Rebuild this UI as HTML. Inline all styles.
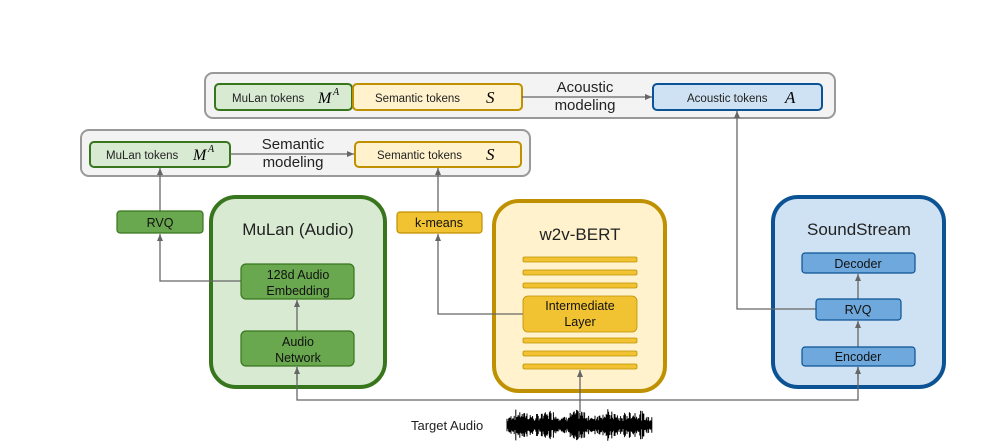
<!DOCTYPE html>
<html><head><meta charset="utf-8"><style>
body{margin:0;background:#fff;}
svg{display:block;font-family:"Liberation Sans",sans-serif;}
</style></head><body>
<svg width="1000" height="444" viewBox="0 0 1000 444" xmlns="http://www.w3.org/2000/svg">
<defs><marker id="a" markerWidth="8" markerHeight="8" refX="7" refY="4" orient="auto" markerUnits="userSpaceOnUse"><path d="M0,1 L7,4 L0,7 z" fill="#666"/></marker></defs>
<!-- top container -->
<rect x="205" y="73" width="630" height="45" rx="8" fill="#f3f3f3" stroke="#999" stroke-width="2"/>
<rect x="215" y="84" width="137" height="26" rx="4" fill="#d9ead3" stroke="#38761d" stroke-width="2"/>
<text x="232" y="102" font-size="11.5" fill="#222">MuLan tokens</text>
<text x="318" y="103" font-size="16" font-style="italic" font-family="Liberation Serif,serif">M</text><text x="333" y="95" font-size="10" font-style="italic" font-family="Liberation Serif,serif">A</text>
<rect x="353" y="84" width="169" height="26" rx="4" fill="#fff2cc" stroke="#bf9000" stroke-width="2"/>
<text x="375" y="102" font-size="11.5" fill="#222">Semantic tokens</text>
<text x="486" y="103" font-size="17" font-style="italic" font-family="Liberation Serif,serif">S</text>
<rect x="653" y="84" width="169" height="26" rx="4" fill="#cfe2f3" stroke="#0b5394" stroke-width="2"/>
<text x="687" y="102" font-size="11.5" fill="#222">Acoustic tokens</text>
<text x="785" y="103" font-size="17" font-style="italic" font-family="Liberation Serif,serif">A</text>
<line x1="522" y1="97" x2="652" y2="97" stroke="#666" stroke-width="1.3" marker-end="url(#a)"/>
<text x="585" y="92" font-size="15" text-anchor="middle" fill="#222">Acoustic</text>
<text x="585" y="110" font-size="15" text-anchor="middle" fill="#222">modeling</text>
<!-- second container -->
<rect x="81" y="130" width="449" height="46" rx="8" fill="#f3f3f3" stroke="#999" stroke-width="2"/>
<rect x="90" y="142" width="140" height="25" rx="4" fill="#d9ead3" stroke="#38761d" stroke-width="2"/>
<text x="106" y="159" font-size="11.5" fill="#222">MuLan tokens</text>
<text x="193" y="160" font-size="16" font-style="italic" font-family="Liberation Serif,serif">M</text><text x="208" y="152" font-size="10" font-style="italic" font-family="Liberation Serif,serif">A</text>
<rect x="355" y="142" width="166" height="25" rx="4" fill="#fff2cc" stroke="#bf9000" stroke-width="2"/>
<text x="377" y="159" font-size="11.5" fill="#222">Semantic tokens</text>
<text x="486" y="160" font-size="17" font-style="italic" font-family="Liberation Serif,serif">S</text>
<line x1="230" y1="154" x2="354" y2="154" stroke="#666" stroke-width="1.3" marker-end="url(#a)"/>
<text x="293" y="149" font-size="15" text-anchor="middle" fill="#222">Semantic</text>
<text x="293" y="167" font-size="15" text-anchor="middle" fill="#222">modeling</text>
<!-- RVQ & kmeans -->
<rect x="117" y="211" width="86" height="22" rx="3" fill="#6aa84f" stroke="#38761d" stroke-width="1.2"/>
<text x="160" y="227" font-size="12.5" text-anchor="middle" fill="#111">RVQ</text>
<rect x="397" y="212" width="85" height="21" rx="3" fill="#f1c232" stroke="#bf9000" stroke-width="1.2"/>
<text x="439" y="227" font-size="12.5" text-anchor="middle" fill="#111">k-means</text>
<!-- big boxes -->
<rect x="211" y="197" width="174" height="190" rx="25" fill="#d9ead3" stroke="#38761d" stroke-width="4"/>
<rect x="494" y="201" width="171" height="190" rx="25" fill="#fff2cc" stroke="#bf9000" stroke-width="4"/>
<rect x="773" y="197" width="171" height="190" rx="25" fill="#cfe2f3" stroke="#0b5394" stroke-width="4"/>
<!-- connectors -->
<g stroke="#666" stroke-width="1.3" fill="none">
<line x1="160" y1="211" x2="160" y2="168" marker-end="url(#a)"/>
<polyline points="241,281 160,281 160,234" marker-end="url(#a)"/>
<line x1="438" y1="212" x2="438" y2="168" marker-end="url(#a)"/>
<polyline points="523,314 438,314 438,234" marker-end="url(#a)"/>
<polyline points="816,309 737,309 737,111" marker-end="url(#a)"/>
<polyline points="297,367 297,400 858,400 858,367"/>
<line x1="297" y1="380" x2="297" y2="367" marker-end="url(#a)"/>
<line x1="858" y1="380" x2="858" y2="367" marker-end="url(#a)"/>
<line x1="580" y1="412" x2="580" y2="370" marker-end="url(#a)"/>
</g>
<!-- MuLan audio -->
<text x="298" y="235" font-size="17" text-anchor="middle" fill="#222">MuLan (Audio)</text>
<rect x="241" y="264" width="113" height="35" rx="5" fill="#6aa84f" stroke="#38761d" stroke-width="1.2"/>
<text x="298" y="279" font-size="12.5" text-anchor="middle" fill="#111">128d Audio</text>
<text x="298" y="295" font-size="12.5" text-anchor="middle" fill="#111">Embedding</text>
<line x1="297" y1="331" x2="297" y2="300" stroke="#666" stroke-width="1.3" marker-end="url(#a)"/>
<rect x="241" y="331" width="113" height="35" rx="5" fill="#6aa84f" stroke="#38761d" stroke-width="1.2"/>
<text x="298" y="346" font-size="12.5" text-anchor="middle" fill="#111">Audio</text>
<text x="298" y="362" font-size="12.5" text-anchor="middle" fill="#111">Network</text>
<!-- w2v -->
<text x="580" y="240" font-size="17" text-anchor="middle" fill="#222">w2v-BERT</text>
<g fill="#f1c232" stroke="#bf9000" stroke-width="0.8">
<rect x="523" y="257" width="114" height="5" rx="1.5"/><rect x="523" y="270" width="114" height="5" rx="1.5"/><rect x="523" y="283" width="114" height="5" rx="1.5"/>
<rect x="523" y="296" width="114" height="36" rx="5"/>
<rect x="523" y="338" width="114" height="5" rx="1.5"/><rect x="523" y="351" width="114" height="5" rx="1.5"/><rect x="523" y="364" width="114" height="5" rx="1.5"/>
</g>
<text x="580" y="310" font-size="12.5" text-anchor="middle" fill="#111">Intermediate</text>
<text x="580" y="326" font-size="12.5" text-anchor="middle" fill="#111">Layer</text>
<!-- SoundStream -->
<text x="859" y="235" font-size="17" text-anchor="middle" fill="#222">SoundStream</text>
<rect x="802" y="253" width="113" height="20" rx="3" fill="#6fa8dc" stroke="#0b5394" stroke-width="1.2"/>
<text x="858" y="268" font-size="12.5" text-anchor="middle" fill="#111">Decoder</text>
<line x1="858" y1="299" x2="858" y2="274" stroke="#666" stroke-width="1.3" marker-end="url(#a)"/>
<rect x="816" y="299" width="85" height="21" rx="3" fill="#6fa8dc" stroke="#0b5394" stroke-width="1.2"/>
<text x="858" y="314" font-size="12.5" text-anchor="middle" fill="#111">RVQ</text>
<line x1="858" y1="347" x2="858" y2="321" stroke="#666" stroke-width="1.3" marker-end="url(#a)"/>
<rect x="802" y="347" width="113" height="19" rx="3" fill="#6fa8dc" stroke="#0b5394" stroke-width="1.2"/>
<text x="858" y="361" font-size="12.5" text-anchor="middle" fill="#111">Encoder</text>
<!-- target audio -->
<text x="411" y="430" font-size="13" fill="#222">Target Audio</text>
<path id="wave" d="" stroke="#000" stroke-width="1" fill="none"/>
</svg>
<script>
(function(){var d="",s=7;function r(){s=(s*9301+49297)%233280;return s/233280;}
for(var x=507;x<=652;x+=0.8){var env=6+6*Math.abs(Math.sin((x-507)/9))+r()*5;var h=env*(0.4+r()*0.6);d+="M"+x.toFixed(1)+","+(425-h).toFixed(1)+"V"+(425+h).toFixed(1);}
document.getElementById("wave").setAttribute("d",d);})();
</script>
</body></html>
